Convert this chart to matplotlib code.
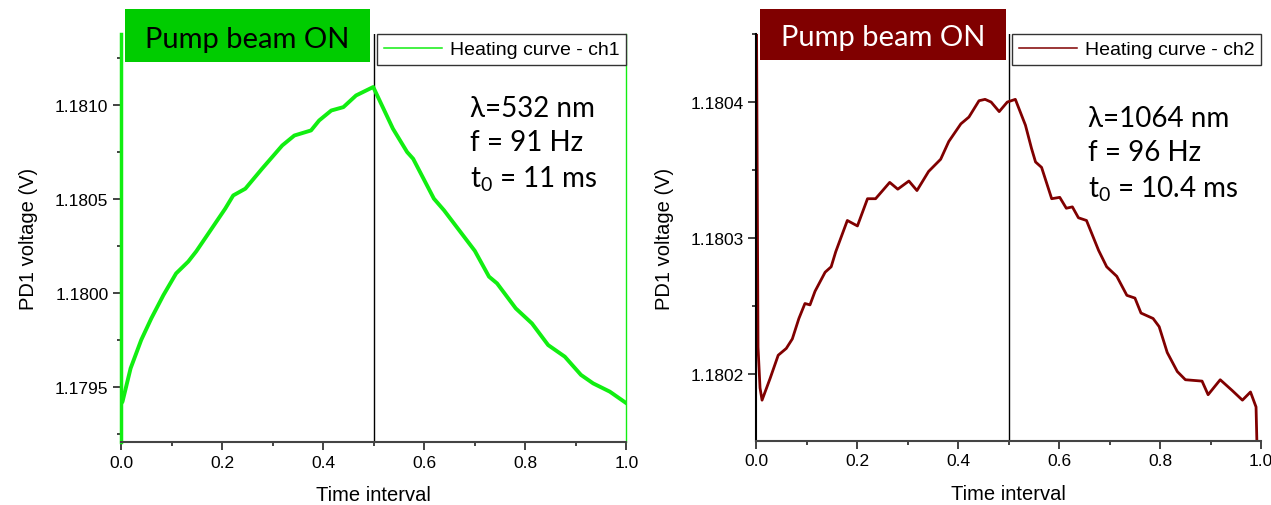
import numpy as np
import matplotlib
matplotlib.use("Agg")
import matplotlib.pyplot as plt
from matplotlib.patches import Rectangle
from matplotlib.ticker import MultipleLocator, FormatStrFormatter

plt.rcParams['font.family'] = ['Liberation Sans', 'DejaVu Sans']
plt.rcParams['mathtext.fontset'] = 'custom'
plt.rcParams['mathtext.rm'] = 'Lato'
plt.rcParams['mathtext.it'] = 'Lato:italic'

# heating curve ch1 (532 nm)
t1 = [0.0, 0.003, 0.019, 0.040, 0.060, 0.084, 0.109, 0.133, 0.149, 0.206, 0.222,
      0.246, 0.279, 0.319, 0.343, 0.376, 0.392, 0.416, 0.440, 0.465, 0.499, 0.538,
      0.566, 0.578, 0.619, 0.639, 0.700, 0.728, 0.744, 0.781, 0.813, 0.845, 0.878,
      0.910, 0.934, 0.967, 1.000]
v1 = [1.179410, 1.179422, 1.179599, 1.179750, 1.179865, 1.179989, 1.180104, 1.180167,
      1.180222, 1.180448, 1.180519, 1.180555, 1.180661, 1.180785, 1.180838, 1.180865,
      1.180918, 1.180971, 1.180989, 1.181051, 1.181096, 1.180874, 1.180750, 1.180714,
      1.180502, 1.180440, 1.180224, 1.180087, 1.180051, 1.179918, 1.179838, 1.179723,
      1.179661, 1.179564, 1.179519, 1.179475, 1.179413]

# heating curve ch2 (1064 nm)
t2 = [0.0, 0.003, 0.007, 0.011, 0.027, 0.043, 0.059, 0.071, 0.084, 0.096, 0.106,
      0.116, 0.136, 0.148, 0.157, 0.180, 0.200, 0.220, 0.236, 0.264, 0.280, 0.302,
      0.318, 0.341, 0.365, 0.381, 0.405, 0.421, 0.441, 0.453, 0.465, 0.481, 0.497,
      0.513, 0.533, 0.545, 0.553, 0.565, 0.585, 0.601, 0.614, 0.626, 0.638, 0.654,
      0.678, 0.694, 0.714, 0.734, 0.750, 0.762, 0.786, 0.798, 0.814, 0.834, 0.850,
      0.883, 0.895, 0.919, 0.943, 0.963, 0.979, 0.990, 0.995]
v2 = [1.180460, 1.180220, 1.180190, 1.180181, 1.180197, 1.180214, 1.180219, 1.180226,
      1.180241, 1.180252, 1.180251, 1.180261, 1.180275, 1.180279, 1.180290, 1.180313,
      1.180309, 1.180329, 1.180329, 1.180341, 1.180336, 1.180342, 1.180335, 1.180349,
      1.180358, 1.180371, 1.180384, 1.180389, 1.180401, 1.180402, 1.180400, 1.180393,
      1.180400, 1.180402, 1.180383, 1.180366, 1.180356, 1.180352, 1.180329, 1.180330,
      1.180322, 1.180323, 1.180315, 1.180313, 1.180291, 1.180279, 1.180272, 1.180258,
      1.180256, 1.180245, 1.180241, 1.180235, 1.180216, 1.180202, 1.180196, 1.180195,
      1.180185, 1.180196, 1.180188, 1.180181, 1.180187, 1.180176, 1.180100]

green = '#11EE11'
dred = '#800000'
calib = ['Lato', 'DejaVu Sans']

fig = plt.figure(figsize=(12.71, 5.06), dpi=100)
ax1 = fig.add_axes([0.0952, 0.1245, 0.3977, 0.8063])
ax2 = fig.add_axes([0.5952, 0.1265, 0.3970, 0.8043])


def style(ax, ylim, major, fmt):
    ax.set_xlim(0, 1)
    ax.set_ylim(*ylim)
    ax.xaxis.set_major_locator(MultipleLocator(0.2))
    ax.xaxis.set_minor_locator(MultipleLocator(0.1))
    ax.xaxis.set_major_formatter(FormatStrFormatter('%.1f'))
    ax.yaxis.set_major_locator(MultipleLocator(major))
    ax.yaxis.set_minor_locator(MultipleLocator(major / 2))
    ax.yaxis.set_major_formatter(FormatStrFormatter(fmt))
    ax.tick_params(which='major', direction='out', length=5.5, width=1.2,
                   labelsize=12.5, color='#222222')
    ax.tick_params(which='minor', direction='out', length=3, width=1.2,
                   color='#222222')
    ax.spines['top'].set_visible(False)
    ax.spines['right'].set_visible(False)
    ax.spines['bottom'].set_color('#444444')
    ax.spines['bottom'].set_linewidth(1.5)
    ax.spines['left'].set_linewidth(1.5)
    ax.set_xlabel('Time interval', fontsize=14.5, labelpad=11)
    ax.set_ylabel('PD1 voltage (V)', fontsize=14.5, labelpad=12)
    ax.axvline(0.5, color='black', lw=1.0)


def add_legend(ax):
    leg = ax.legend(loc='upper right', bbox_to_anchor=(1.0, 1.0), borderaxespad=0,
                    fontsize=14, fancybox=False, edgecolor='#333333', framealpha=1,
                    handlelength=3.0, handletextpad=0.4, borderpad=0.35)
    leg.get_frame().set_linewidth(1.0)
    for line in leg.get_lines():
        line.set_linewidth(1.1)


# left panel
style(ax1, (1.179207, 1.181378), 0.0005, '%.4f')
ax1.plot(t1, v1, color=green, lw=2.8, label='Heating curve - ch1')
ax1.spines['left'].set_color(green)
ax1.spines['left'].set_linewidth(2.5)
ax1.spines['right'].set_visible(True)
ax1.spines['right'].set_color(green)
ax1.spines['right'].set_linewidth(1.0)
add_legend(ax1)
ax1.text(0.691, 0.73, 'λ=532 nm\nf = 91 Hz\nt$_\\mathrm{0}$ = 11 ms',
         transform=ax1.transAxes, fontsize=20, family=calib, va='center',
         ha='left', linespacing=1.37)

# right panel
style(ax2, (1.180151, 1.180450), 0.0001, '%.4f')
ax2.plot(t2, v2, color=dred, lw=2.0, label='Heating curve - ch2')
add_legend(ax2)
ax2.text(0.656, 0.705, 'λ=1064 nm\nf = 96 Hz\nt$_\\mathrm{0}$ = 10.4 ms',
         transform=ax2.transAxes, fontsize=20, family=calib, va='center',
         ha='left', linespacing=1.37)

# "Pump beam ON" banners
fig.patches.append(Rectangle((0.0983, 0.8755), 0.1928, 0.1047, transform=fig.transFigure,
                             facecolor='#00CC00', edgecolor='none', zorder=5))
fig.text(0.1947, 0.9200, 'Pump beam ON', ha='center', va='center', fontsize=21,
         family=calib, color='black', zorder=6)
fig.patches.append(Rectangle((0.5980, 0.8794), 0.1935, 0.1008, transform=fig.transFigure,
                             facecolor=dred, edgecolor='none', zorder=5))
fig.text(0.6948, 0.9240, 'Pump beam ON', ha='center', va='center', fontsize=21,
         family=calib, color='white', zorder=6)

fig.savefig('out.png', dpi=100)
